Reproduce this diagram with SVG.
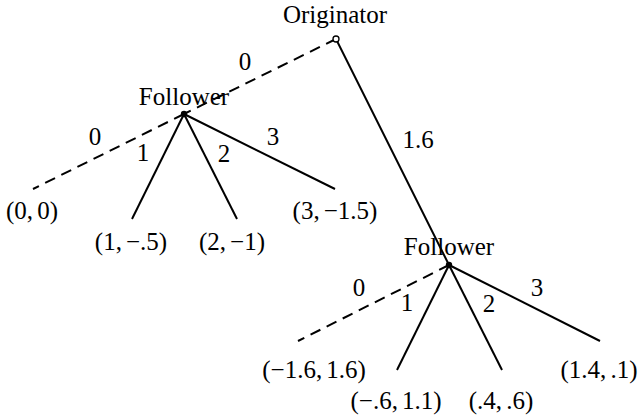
<svg xmlns="http://www.w3.org/2000/svg" width="642" height="418" viewBox="0 0 642 418">
<style>
.e{stroke:#000;stroke-width:2;fill:none}
.d{stroke-dasharray:11 7}
</style>
<rect width="642" height="418" fill="#fff"/>
<g font-family="Liberation Serif" font-size="25" text-anchor="middle" fill="#000">
<g id="edges">
<line class="e d" x1="336" y1="39" x2="184" y2="114"/>
<line class="e" x1="336" y1="39" x2="449" y2="265"/>
<line class="e d" x1="184" y1="114" x2="33" y2="189"/>
<line class="e" x1="184" y1="114" x2="132" y2="219"/>
<line class="e" x1="184" y1="114" x2="237" y2="219"/>
<line class="e" x1="184" y1="114" x2="335" y2="189"/>
<line class="e d" x1="449" y1="265" x2="298" y2="341"/>
<line class="e" x1="449" y1="265" x2="397" y2="370"/>
<line class="e" x1="449" y1="265" x2="502" y2="370"/>
<line class="e" x1="449" y1="265" x2="600" y2="341"/>
<text x="245" y="70">0</text>
<text x="418" y="148">1.6</text>
<text x="95" y="145">0</text>
<text x="143" y="161">1</text>
<text x="224" y="162">2</text>
<text x="273" y="145">3</text>
<text x="359" y="296">0</text>
<text x="407" y="311">1</text>
<text x="489" y="312">2</text>
<text x="537" y="296">3</text>
</g>
<g id="originator">
<circle cx="336" cy="39" r="3" fill="#fff" stroke="#000" stroke-width="1.3"/>
<text x="335" y="23">Originator</text>
</g>
<g id="follower1">
<circle cx="184" cy="114" r="3.2" fill="#000"/>
<text x="184" y="105">Follower</text>
</g>
<g id="follower2">
<circle cx="449" cy="265" r="3.2" fill="#000"/>
<text x="449" y="255">Follower</text>
</g>
<g id="leaf00"><text x="32" y="219">(0,<tspan dx="4">0)</tspan></text></g>
<g id="leaf1"><text x="131" y="250">(1,<tspan dx="4">−.5)</tspan></text></g>
<g id="leaf2"><text x="232" y="250">(2,<tspan dx="4">−1)</tspan></text></g>
<g id="leaf3"><text x="335" y="219">(3,<tspan dx="4">−1.5)</tspan></text></g>
<g id="leaf20"><text x="314" y="378">(−1.6,<tspan dx="4">1.6)</tspan></text></g>
<g id="leaf21"><text x="396" y="409">(−.6,<tspan dx="4">1.1)</tspan></text></g>
<g id="leaf22"><text x="501" y="409">(.4,<tspan dx="4">.6)</tspan></text></g>
<g id="leaf23"><text x="599" y="378">(1.4,<tspan dx="4">.1)</tspan></text></g>
</g>
</svg>
